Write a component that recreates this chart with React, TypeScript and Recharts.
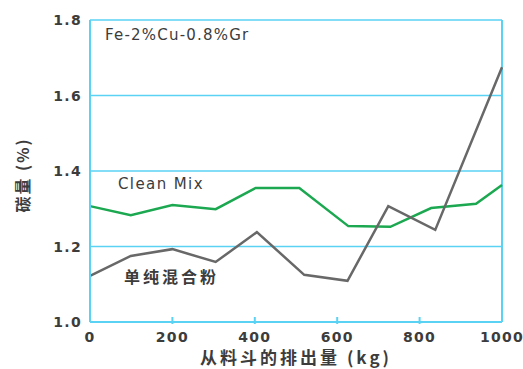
import React from 'react';
import { CartesianGrid, Line, LineChart, ReferenceLine, XAxis, YAxis } from 'recharts';

// discharged amount from hopper (kg) vs carbon content (%)
const cleanMixX = [0, 99, 200, 305, 402, 508, 627, 729, 828, 937, 1000];
const cleanMixY = [1.307, 1.283, 1.31, 1.299, 1.355, 1.355, 1.254, 1.252, 1.302, 1.313, 1.363];

const simpleMixX = [0, 99, 200, 305, 405, 520, 625, 724, 838, 1000];
const simpleMixY = [1.122, 1.175, 1.193, 1.159, 1.238, 1.125, 1.109, 1.307, 1.244, 1.675];

const xTicks = [0, 200, 400, 600, 800, 1000];
const yTicks = [1.0, 1.2, 1.4, 1.6, 1.8];

const cleanMix = cleanMixX.map((x, i) => ({ x, y: cleanMixY[i] }));
const simpleMix = simpleMixX.map((x, i) => ({ x, y: simpleMixY[i] }));

const CYAN = '#5ad2f4';
const GREEN = '#1ca850';
const GRAY = '#686868';
const TEXT = '#3c3c3c';
const FONT = '"DejaVu Sans", Arial, sans-serif';

const XTick = (props: any) => {
  const { x, y, payload } = props;
  const inner = payload.value !== 0 && payload.value !== 1000;
  return (
    <g>
      {inner && <line x1={x} x2={x} y1={y - 7} y2={y} stroke={CYAN} strokeWidth={2} />}
      <text
        x={x}
        y={y + 18}
        textAnchor="middle"
        fill={TEXT}
        fontFamily={FONT}
        fontWeight="bold"
        fontSize={14}
        letterSpacing={1.3}
      >
        {payload.value}
      </text>
    </g>
  );
};

const YTick = (props: any) => {
  const { x, y, payload } = props;
  return (
    <text
      x={x - 6}
      y={y + 5}
      textAnchor="end"
      fill={TEXT}
      fontFamily={FONT}
      fontWeight="bold"
      fontSize={14}
      letterSpacing={1.3}
    >
      {payload.value.toFixed(1)}
    </text>
  );
};

export default function App() {
  return (
    <div style={{ position: 'absolute', left: 0, top: 0, width: 523, height: 369, background: '#fff' }}>
      <LineChart width={523} height={369} margin={{ top: 20, right: 21, bottom: 0, left: 30 }}>
        <CartesianGrid vertical={false} stroke={CYAN} strokeWidth={1.5} />
        <XAxis
          type="number"
          dataKey="x"
          domain={[0, 1000]}
          ticks={xTicks}
          height={47}
          tickLine={false}
          tickSize={0}
          tick={<XTick />}
          axisLine={{ stroke: CYAN, strokeWidth: 2 }}
          allowDuplicatedCategory={false}
        />
        <YAxis
          type="number"
          dataKey="y"
          domain={[1.0, 1.8]}
          ticks={yTicks}
          width={60}
          tickLine={false}
          tickSize={0}
          tick={<YTick />}
          axisLine={{ stroke: CYAN, strokeWidth: 2 }}
        />
        <ReferenceLine x={1000} stroke={CYAN} strokeWidth={2} />
        <Line
          data={cleanMix}
          dataKey="y"
          stroke={GREEN}
          strokeWidth={2.5}
          dot={false}
          isAnimationActive={false}
        />
        <Line
          data={simpleMix}
          dataKey="y"
          stroke={GRAY}
          strokeWidth={2.5}
          dot={false}
          isAnimationActive={false}
        />
      </LineChart>
      <div style={{ position: 'absolute', left: 105, top: 26, fontFamily: FONT, fontSize: 15, letterSpacing: 1.2, color: TEXT, whiteSpace: 'nowrap' }}>
        Fe-2%Cu-0.8%Gr
      </div>
      <div style={{ position: 'absolute', left: 118, top: 175, fontFamily: FONT, fontSize: 15, letterSpacing: 1.4, color: TEXT, whiteSpace: 'nowrap' }}>
        Clean Mix
      </div>
      <div style={{ position: 'absolute', left: 124, top: 266, fontFamily: '"Noto Sans CJK SC", sans-serif', fontSize: 16, fontWeight: 'bold', letterSpacing: 3, color: TEXT, whiteSpace: 'nowrap', lineHeight: '20px' }}>
        单纯混合粉
      </div>
      <div style={{ position: 'absolute', left: 296, top: 347, transform: 'translateX(-50%)', fontFamily: '"Noto Sans CJK SC", sans-serif', fontSize: 17, fontWeight: 'bold', letterSpacing: 3, color: TEXT, whiteSpace: 'nowrap', lineHeight: '20px' }}>
        从料斗的排出量 (kg)
      </div>
      <div style={{ position: 'absolute', left: 22, top: 175, transform: 'translate(-50%, -50%) rotate(-90deg)', fontFamily: '"Noto Sans CJK SC", sans-serif', fontSize: 16, fontWeight: 'bold', letterSpacing: 2, color: TEXT, whiteSpace: 'nowrap', lineHeight: '20px' }}>
        碳量 (%)
      </div>
    </div>
  );
}
